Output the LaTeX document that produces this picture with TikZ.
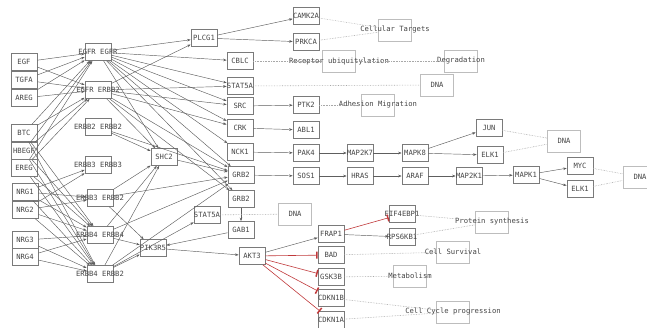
\documentclass[tikz,border=0pt]{standalone}
\usepackage{fontspec}
\setmonofont{DejaVu Sans Mono}
\usepackage{xcolor}
\usetikzlibrary{arrows.meta}

\definecolor{boxgray}{HTML}{7A7A7A}
\definecolor{procgray}{HTML}{BDBDBD}
\definecolor{txtgray}{HTML}{454545}
\definecolor{edgegray}{HTML}{5E5E5E}
\definecolor{dotgray}{HTML}{A8A8A8}
\definecolor{inhred}{HTML}{C0393B}

\tikzset{
  gene/.style={draw=boxgray, rectangle, line width=0.7pt, minimum width=26pt, minimum height=17pt,
    inner sep=0pt, text=txtgray, font=\ttfamily\fontsize{7.2}{8}\selectfont,
    execute at begin node={\hbox to 0pt\bgroup\hss}, execute at end node={\hss\egroup}},
  proc/.style={gene, draw=procgray, minimum width=33pt, minimum height=22pt},
  act/.style={draw=edgegray, line width=0.45pt, -{Stealth[length=3.5pt,width=2.6pt]}},
  inh/.style={draw=inhred, line width=0.6pt, -{Bar[width=7pt,line width=1.5pt]}},
  rel/.style={draw=dotgray, densely dotted, line width=0.6pt},
}

\begin{document}
\begin{tikzpicture}[x=1pt, y=-1pt]
  \useasboundingbox (0,0) rectangle (647,327);

  % ligands
  \node[gene] (egf)   at (24,62)  {EGF};
  \node[gene] (tgfa)  at (24,80)  {TGFA};
  \node[gene] (areg)  at (24,98)  {AREG};
  \node[gene] (btc)   at (24,133) {BTC};
  \node[gene] (hbegf) at (24,151) {HBEGF};
  \node[gene] (ereg)  at (24,168) {EREG};
  \node[gene] (nrg1)  at (25,192) {NRG1};
  \node[gene] (nrg2)  at (25,210) {NRG2};
  \node[gene] (nrg3)  at (25,240) {NRG3};
  \node[gene] (nrg4)  at (25,257) {NRG4};

  % receptor dimers
  \node[gene] (d11) at (98,52)   {EGFR EGFR};
  \node[gene] (d12) at (98,90)   {EGFR ERBB2};
  \node[gene] (d22) at (98,127)  {ERBB2 ERBB2};
  \node[gene] (d33) at (98,165)  {ERBB3 ERBB3};
  \node[gene] (d32) at (100,198) {ERBB3 ERBB2};
  \node[gene] (d44) at (100,235) {ERBB4 ERBB4};
  \node[gene] (d42) at (100,274) {ERBB4 ERBB2};

  % adaptors
  \node[gene] (shc2)   at (164,157) {SHC2};
  \node[gene] (pik3r5) at (153,248) {PIK3R5};
  \node[gene] (stat5b) at (207,215) {STAT5A};
  \node[gene] (plcg1)  at (204,38)  {PLCG1};
  \node[gene] (cblc)   at (240,61)  {CBLC};
  \node[gene] (stat5a) at (240,86)  {STAT5A};
  \node[gene] (src)    at (240,106) {SRC};
  \node[gene] (crk)    at (240,128) {CRK};
  \node[gene] (nck1)   at (240,152) {NCK1};
  \node[gene] (grb2a)  at (241,175) {GRB2};
  \node[gene] (grb2b)  at (241,199) {GRB2};
  \node[gene] (gab1)   at (241,230) {GAB1};
  \node[gene] (akt3)   at (252,256) {AKT3};

  % downstream cascade
  \node[gene] (camk2a) at (306,16)  {CAMK2A};
  \node[gene] (prkca)  at (306,42)  {PRKCA};
  \node[gene] (ptk2)   at (306,105) {PTK2};
  \node[gene] (abl1)   at (306,130) {ABL1};
  \node[gene] (pak4)   at (306,153) {PAK4};
  \node[gene] (sos1)   at (306,176) {SOS1};
  \node[gene] (map2k7) at (360,153) {MAP2K7};
  \node[gene] (hras)   at (360,176) {HRAS};
  \node[gene] (mapk8)  at (415,153) {MAPK8};
  \node[gene] (araf)   at (415,176) {ARAF};
  \node[gene] (map2k1) at (469,176) {MAP2K1};
  \node[gene] (mapk1)  at (526,175) {MAPK1};
  \node[gene] (jun)    at (489,128) {JUN};
  \node[gene] (elk1a)  at (490,155) {ELK1};
  \node[gene] (myc)    at (580,166) {MYC};
  \node[gene] (elk1b)  at (580,189) {ELK1};
  \node[gene] (frap1)  at (331,234) {FRAP1};
  \node[gene] (bad)    at (331,255) {BAD};
  \node[gene] (gsk3b)  at (331,277) {GSK3B};
  \node[gene] (cdkn1b) at (331,298) {CDKN1B};
  \node[gene] (cdkn1a) at (331,320) {CDKN1A};
  \node[gene] (eif)    at (402,214) {EIF4EBP1};
  \node[gene] (rps)    at (402,237) {RPS6KB1};

  % outcomes
  \node[proc] (cell)  at (395,30)  {Cellular Targets};
  \node[proc] (ubq)   at (339,61)  {Receptor ubiquitylation};
  \node[proc] (degr)  at (461,61)  {Degradation};
  \node[proc] (dnaa)  at (437,85)  {DNA};
  \node[proc] (adh)   at (378,105) {Adhesion Migration};
  \node[proc] (dnab)  at (295,214) {DNA};
  \node[proc] (dnac)  at (564,141) {DNA};
  \node[proc] (dnad)  at (640,177) {DNA};
  \node[proc] (prot)  at (492,222) {Protein synthesis};
  \node[proc] (surv)  at (453,252) {Cell Survival};
  \node[proc] (metab) at (410,276) {Metabolism};
  \node[proc] (cyc)   at (453,312) {Cell Cycle progression};

  % ligand binding
  \foreach \l in {egf,tgfa,areg,btc,hbegf,ereg}
    \foreach \d in {d11,d12} \draw[act] (\l) -- (\d);
  \foreach \l in {nrg1,nrg2}
    \foreach \d in {d33,d32} \draw[act] (\l) -- (\d);
  \foreach \l in {btc,hbegf,ereg,nrg1,nrg2,nrg3,nrg4}
    \foreach \d in {d44,d42} \draw[act] (\l) -- (\d);

  % receptors to adaptors
  \foreach \t in {plcg1,cblc,stat5a,src,crk,nck1,grb2a,grb2b,shc2}
    \draw[act] (d11) -- (\t);
  \foreach \t in {plcg1,stat5a,src,crk,grb2a,grb2b,shc2}
    \draw[act] (d12) -- (\t);
  \foreach \t in {shc2,grb2a}
    \draw[act] (d22) -- (\t);
  \foreach \d in {d32,d44,d42}
    \foreach \t in {shc2,grb2a,pik3r5} \draw[act] (\d) -- (\t);
  \draw[act] (d42) -- (stat5b);
  \draw[act] (shc2) -- (grb2a);

  % signalling chains
  \draw[act] (plcg1) -- (camk2a);
  \draw[act] (plcg1) -- (prkca);
  \draw[act] (src) -- (ptk2);
  \draw[act] (crk) -- (abl1);
  \draw[act] (nck1) -- (pak4);
  \draw[act] (pak4) -- (map2k7);
  \draw[act] (map2k7) -- (mapk8);
  \draw[act] (mapk8) -- (jun);
  \draw[act] (mapk8) -- (elk1a);
  \draw[act] (grb2a) -- (sos1);
  \draw[act] (sos1) -- (hras);
  \draw[act] (hras) -- (araf);
  \draw[act] (araf) -- (map2k1);
  \draw[act] (map2k1) -- (mapk1);
  \draw[act] (mapk1) -- (myc);
  \draw[act] (mapk1) -- (elk1b);
  \draw[act] (grb2b) -- (gab1);
  \draw[act] (gab1) -- (pik3r5);
  \draw[act] (pik3r5) -- (akt3);
  \draw[act] (akt3) -- (frap1);
  \draw[act] (frap1) -- (rps);

  % inhibition
  \draw[inh] (frap1) -- (eif);
  \foreach \t in {bad,gsk3b,cdkn1b,cdkn1a}
    \draw[inh] (akt3) -- (\t);

  % outcomes
  \draw[rel] (camk2a) -- (cell);
  \draw[rel] (prkca) -- (cell);
  \draw[rel] (cblc) -- (ubq) -- (degr);
  \draw[rel] (stat5a) -- (dnaa);
  \draw[rel] (ptk2) -- (adh);
  \draw[rel] (stat5b) -- (dnab);
  \draw[rel] (jun) -- (dnac);
  \draw[rel] (elk1a) -- (dnac);
  \draw[rel] (myc) -- (dnad);
  \draw[rel] (elk1b) -- (dnad);
  \draw[rel] (eif) -- (prot);
  \draw[rel] (rps) -- (prot);
  \draw[rel] (bad) -- (surv);
  \draw[rel] (gsk3b) -- (metab);
  \draw[rel] (cdkn1b) -- (cyc);
  \draw[rel] (cdkn1a) -- (cyc);
\end{tikzpicture}
\end{document}
